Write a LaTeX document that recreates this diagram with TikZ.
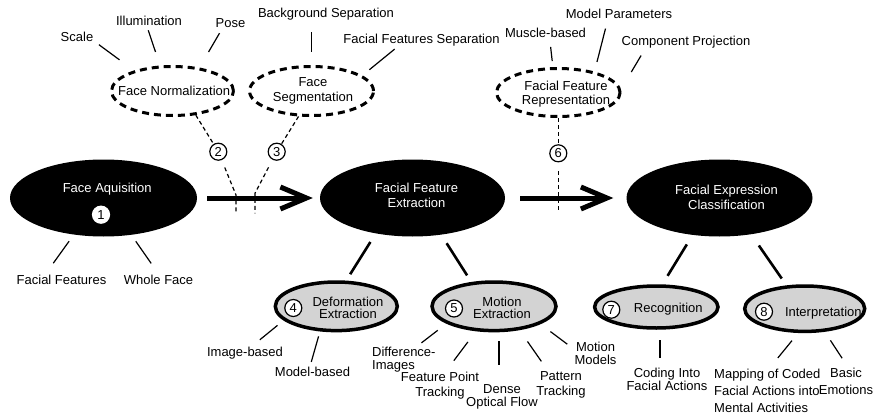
\documentclass[tikz,border=0pt]{standalone}
\usepackage{fontspec}
\setmainfont{Liberation Sans}
\usetikzlibrary{arrows.meta,shapes.geometric}

\definecolor{stagegray}{RGB}{211,211,211}
\newcommand{\lblfont}[1]{\fontsize{13}{#1}\selectfont}

\begin{document}
\begin{tikzpicture}[x=1pt, y=-1pt,
    stage/.style={ellipse, fill=black, minimum width=186pt, minimum height=77pt, inner sep=0pt},
    stagetext/.style={text=white, inner sep=1pt, align=center, font=\lblfont{15}},
    substage/.style={ellipse, draw, line width=3.5pt, fill=stagegray, inner sep=0pt},
    optstage/.style={ellipse, draw, line width=3pt, dash pattern=on 7pt off 5pt, inner sep=0pt},
    num/.style={circle, draw, fill=white, line width=1.2pt, inner sep=0pt, minimum size=17pt, font=\lblfont{15}},
    lbl/.style={inner sep=1pt, align=center, font=\lblfont{15}},
    leaf/.style={line width=1.2pt},
    link/.style={line width=2.6pt},
    numline/.style={line width=1.2pt, dash pattern=on 4pt off 3pt},
    flow/.style={line width=5pt, -{Straight Barb[length=26pt,width=22pt]}}
  ]
  \useasboundingbox (0,0) rectangle (877,417);

  % main stages
  \node[stage, minimum width=187pt] (acq) at (103.5,198) {};
  \node[stagetext] (acqtext) at ([shift={(3.7,-8.4)}]acq.center) {Face Aquisition};
  \node[num, draw=white] (n1) at ([shift={(-2.5,16.7)}]acq.center) {1};

  \node[stage, minimum width=185pt] (ext) at (412.5,198) {};
  \node[stagetext] (exttext) at ([shift={(4,-2.2)}]ext.center) {Facial Feature\\Extraction};

  \node[stage] (cls) at (719.5,198) {};
  \node[stagetext] (clstext) at ([shift={(7,-0.6)}]cls.center) {Facial Expression\\Classification};

  % optional steps
  \node[optstage, minimum width=122pt, minimum height=49pt] (norm) at (172.5,91) {};
  \node[lbl] (normtext) at ([shift={(1.7,-0.6)}]norm.center) {Face Normalization};

  \node[optstage, minimum width=124pt, minimum height=49pt] (seg) at (311.5,91) {};
  \node[lbl] (segtext) at ([shift={(1.5,-0.5)}]seg.center) {Face\\Segmentation};

  \node[optstage, minimum width=123.6pt, minimum height=48pt] (rep) at (558.3,92.5) {};
  \node[lbl, font=\lblfont{14}] (reptext) at ([shift={(7.7,1.7)}]rep.center) {Facial Feature\\Representation};

  % sub stages
  \node[substage, minimum width=122pt, minimum height=48.6pt] (def) at (336.3,306.3) {};
  \node[num] (n4) at ([shift={(-43,1.7)}]def.center) {4};
  \node[lbl, font=\lblfont{12}] (deftext) at ([shift={(11.7,1.4)}]def.center) {Deformation\\Extraction};

  \node[substage, minimum width=124pt, minimum height=48.6pt] (mot) at (494,306.3) {};
  \node[num] (n5) at ([shift={(-40,2.2)}]mot.center) {5};
  \node[lbl, font=\lblfont{12}] (mottext) at ([shift={(8,1.2)}]mot.center) {Motion\\Extraction};

  \node[substage, minimum width=123.4pt, minimum height=42pt] (rec) at (656.3,307) {};
  \node[num] (n7) at ([shift={(-45,2.7)}]rec.center) {7};
  \node[lbl] (rectext) at ([shift={(12,2.6)}]rec.center) {Recognition};

  \node[substage, minimum width=120pt, minimum height=45.4pt] (int) at (804.7,308.7) {};
  \node[num] (n8) at ([shift={(-40.7,3)}]int.center) {8};
  \node[lbl] (inttext) at ([shift={(18.6,4.6)}]int.center) {Interpretation};

  % numbered hints
  \node[num] (n2) at (218.3,151.7) {2};
  \node[num] (n3) at (276.7,151.7) {3};
  \node[num] (n6) at (558.3,153.3) {6};
  \coordinate (bend2) at (236,195);
  \coordinate (foot2) at (236,213.3);
  \coordinate (bend3) at (255,193.3);
  \coordinate (foot3) at (255,213.3);
  \coordinate (foot6) at (558.3,213.3);

  % labels
  \node[lbl] (scale) at (77,36.4) {Scale};
  \node[lbl] (illum) at (149,21.1) {Illumination};
  \node[lbl] (pose) at (230.5,23.2) {Pose};
  \node[lbl] (bgsep) at (326,14.6) {Background Separation};
  \node[lbl] (ffsep) at (421.5,40.6) {Facial Features Separation};
  \node[lbl] (muscle) at (545.5,32.7) {Muscle-based};
  \node[lbl] (modpar) at (619,13.7) {Model Parameters};
  \node[lbl] (comproj) at (686,42) {Component Projection};
  \node[lbl] (facfeat) at (61.5,279.4) {Facial Features};
  \node[lbl] (whole) at (158.5,279.4) {Whole Face};
  \node[lbl] (imgbased) at (245,353) {Image-based};
  \node[lbl] (modbased) at (312.5,372.1) {Model-based};
  \node[lbl, anchor=west, align=left, font=\lblfont{13.3}] (diffimg) at (371,359.6) {Difference-\\Images};
  \node[lbl] (featpt) at (440,385.5) {Feature Point\\Tracking};
  \node[lbl, font=\lblfont{12.4}] (dense) at (502,396.9) {Dense\\Optical Flow};
  \node[lbl, font=\lblfont{14.7}] (pattern) at (561,384.7) {Pattern\\Tracking};
  \node[lbl, font=\lblfont{13.3}] (motmod) at (595.5,353.4) {Motion\\Models};
  \node[lbl, font=\lblfont{13.6}] (coding) at (667,379.4) {Coding Into\\Facial Actions};
  \node[lbl, anchor=west, align=left, font=\lblfont{17.2}] (mapping) at (713,391) {Mapping of Coded\\Facial Actions into\\Mental Activities};
  \node[lbl, font=\lblfont{16.4}] (basic) at (846,381.4) {Basic\\Emotions};

  % hint lines
  \draw[numline, shorten <=8pt] (norm.314) -- (n2) -- (bend2) -- (foot2);
  \draw[numline, shorten <=8.5pt] (seg.243) -- (n3) -- (bend3) -- (foot3);
  \draw[numline, shorten <=9pt] (rep.south) -- (n6) -- (foot6);

  % process arrows
  \draw[flow, shorten <=10pt, shorten >=7pt] (acq) -- (ext);
  \draw[flow, shorten <=15pt, shorten >=13pt] (ext) -- (cls);

  % stage to sub stage
  \draw[link, shorten <=10pt, shorten >=7.5pt] (ext.224) -- (def.69);
  \draw[link, shorten <=10pt, shorten >=7.8pt] (ext.308) -- (mot.133);
  \draw[link, shorten <=11pt, shorten >=10pt] (cls.234) -- (rec.75);
  \draw[link, shorten <=13.5pt, shorten >=8.3pt] (cls.311) -- (int.128);

  % leaf lines
  \draw[leaf, shorten <=5.5pt, shorten >=18pt] (scale.344) -- (norm.152);
  \draw[leaf, shorten <=3.4pt, shorten >=14.3pt] (illum.253) -- (norm.116);
  \draw[leaf, shorten <=4.9pt, shorten >=18pt] (pose.214) -- (norm.41);
  \draw[leaf, shorten <=10.3pt, shorten >=13pt] (seg.north |- bgsep.south) -- (seg.north);
  \draw[leaf, shorten <=2pt, shorten >=9pt] (ffsep.196) -- (seg.17);
  \draw[leaf, shorten <=8.3pt, shorten >=6.1pt] (muscle.305) -- (rep.102);
  \draw[leaf, shorten <=9.2pt, shorten >=10pt] (modpar.208) -- (rep.30);
  \draw[leaf, shorten <=7.3pt, shorten >=20pt] (comproj.190) -- (rep.3);
  \draw[leaf, shorten <=12.6pt, shorten >=8pt] (facfeat.159) -- (acq.231.5);
  \draw[leaf, shorten <=12.2pt, shorten >=7.7pt] (whole.93) -- (acq.307);
  \draw[leaf, shorten <=9.4pt, shorten >=7.8pt] (imgbased.44) -- (def.195);
  \draw[leaf, shorten <=4.4pt, shorten >=5.1pt] (modbased.112) -- (def.237);
  \draw[leaf, shorten <=4.6pt, shorten >=10.9pt] (diffimg.45) -- (mot.200);
  \draw[leaf, shorten <=12.6pt, shorten >=13.3pt] (featpt.67) -- (mot.234);
  \draw[leaf, shorten <=9pt, shorten >=18.8pt] (mot.281) -- (mot.281 |- dense.north);
  \draw[leaf, shorten <=10.9pt, shorten >=13.8pt] (pattern.133) -- (mot.317);
  \draw[leaf, shorten <=7.6pt, shorten >=12.4pt] (motmod.168) -- (mot.339);
  \draw[leaf, shorten <=10.5pt, shorten >=8.6pt] (rec.279) -- (rec.279 |- coding.north);
  \draw[leaf, shorten <=12.8pt, shorten >=9.8pt] (mapping.84) -- (int.255);
  \draw[leaf, shorten <=10.8pt, shorten >=10.2pt] (basic.82) -- (int.311);
\end{tikzpicture}
\end{document}
